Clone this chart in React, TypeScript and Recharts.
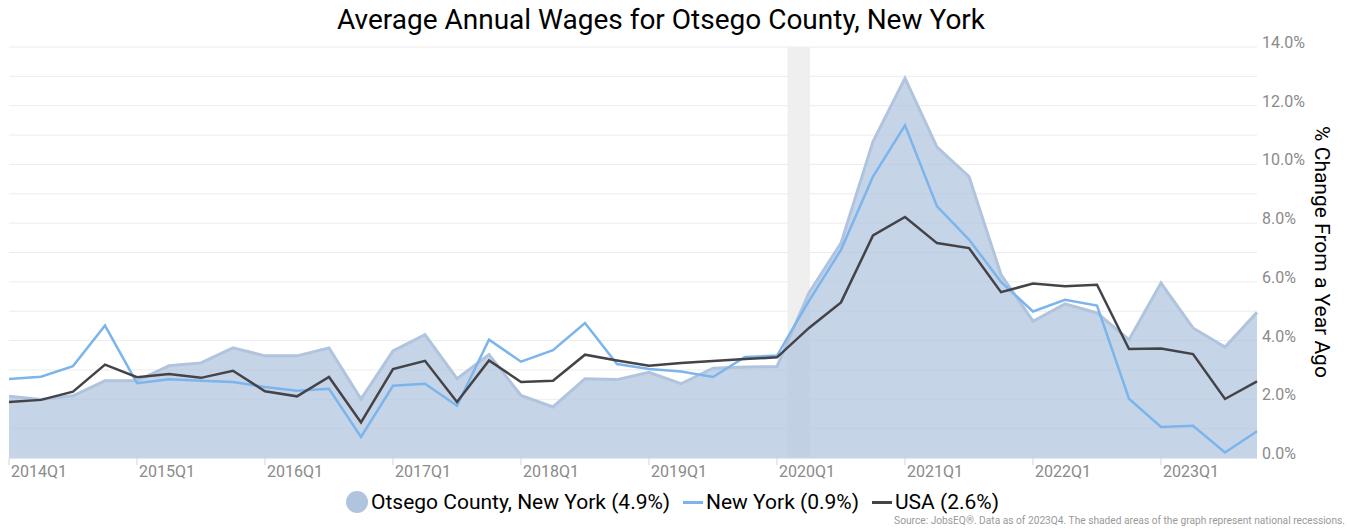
import React from "react";
import {
  Area,
  CartesianGrid,
  ComposedChart,
  Line,
  ReferenceArea,
  XAxis,
  YAxis,
} from "recharts";

const quarters = [
  "2014Q1", "2014Q2", "2014Q3", "2014Q4",
  "2015Q1", "2015Q2", "2015Q3", "2015Q4",
  "2016Q1", "2016Q2", "2016Q3", "2016Q4",
  "2017Q1", "2017Q2", "2017Q3", "2017Q4",
  "2018Q1", "2018Q2", "2018Q3", "2018Q4",
  "2019Q1", "2019Q2", "2019Q3", "2019Q4",
  "2020Q1", "2020Q2", "2020Q3", "2020Q4",
  "2021Q1", "2021Q2", "2021Q3", "2021Q4",
  "2022Q1", "2022Q2", "2022Q3", "2022Q4",
  "2023Q1", "2023Q2", "2023Q3", "2023Q4",
];

const otsego = [
  2.1, 1.99, 2.12, 2.63, 2.63, 3.14, 3.24, 3.75, 3.48, 3.48,
  3.75, 2.01, 3.65, 4.2, 2.7, 3.52, 2.13, 1.74, 2.7, 2.67,
  2.92, 2.53, 3.06, 3.1, 3.12, 5.63, 7.32, 10.78, 12.94, 10.59,
  9.59, 6.25, 4.66, 5.25, 4.94, 4.03, 5.96, 4.43, 3.78, 4.96,
];

const newYork = [
  2.69, 2.77, 3.13, 4.51, 2.55, 2.68, 2.63, 2.59, 2.42, 2.29,
  2.36, 0.72, 2.46, 2.53, 1.78, 4.03, 3.28, 3.67, 4.6, 3.2,
  3.03, 2.95, 2.76, 3.44, 3.49, 5.35, 7.09, 9.59, 11.33, 8.57,
  7.44, 6.0, 4.99, 5.39, 5.19, 2.02, 1.06, 1.1, 0.19, 0.91,
];

const usa = [
  1.91, 1.98, 2.26, 3.18, 2.75, 2.86, 2.73, 2.97, 2.27, 2.1,
  2.76, 1.21, 3.03, 3.31, 1.91, 3.32, 2.59, 2.63, 3.52, 3.32,
  3.14, 3.24, 3.3, 3.37, 3.43, 4.43, 5.3, 7.58, 8.21, 7.32,
  7.15, 5.65, 5.94, 5.85, 5.9, 3.71, 3.73, 3.54, 2.01, 2.61,
];

// recession: Feb 2020 - Apr 2020, in quarter-index units
const recessionStart = 24.33;
const recessionEnd = 25.03;

const xTicks = [0, 4, 8, 12, 16, 20, 24, 28, 32, 36];
const yTicks = [0, 1, 2, 3, 4, 5, 6, 7, 8, 9, 10, 11, 12, 13, 14];

const data = quarters.map((q, i) => ({
  i,
  quarter: q,
  otsego: otsego[i],
  newYork: newYork[i],
  usa: usa[i],
}));

const font = "Roboto, 'Noto Sans', sans-serif";

function XTick({ x, y, payload }) {
  return (
    <text x={x + 2} y={y + 10} fill="#8a8a8a" fontSize={16} fontFamily={font} textAnchor="start">
      {quarters[payload.value]}
    </text>
  );
}

function YTick({ x, y, payload }) {
  if (payload.value % 2 !== 0) return null;
  return (
    <text x={x} y={y + 1} fill="#8a8a8a" fontSize={16} fontFamily={font} textAnchor="start">
      {payload.value.toFixed(1) + "%"}
    </text>
  );
}

const legendText = { position: "absolute" as const, top: 489, fontSize: 21, lineHeight: "26px", color: "#000", whiteSpace: "nowrap" as const };

export default function App() {
  return (
    <div style={{ position: "absolute", left: 0, top: 0, width: 1349, height: 529, fontFamily: font, background: "#fff" }}>
      <div style={{ position: "absolute", left: 0, width: 1322, top: 3, textAlign: "center", fontSize: 28, lineHeight: "34px", color: "#000" }}>
        Average Annual Wages for Otsego County, New York
      </div>

      <ComposedChart width={1349} height={529} data={data} margin={{ top: 47, right: 0, left: 9, bottom: 41 }}>
        <CartesianGrid horizontal vertical={false} stroke="#ececec" strokeWidth={1} />
        <ReferenceArea
          x1={recessionStart}
          x2={recessionEnd}
          y1={0}
          y2={14}
          fill="#efefef"
          fillOpacity={1}
          stroke="none"
        />
        <XAxis
          dataKey="i"
          type="number"
          domain={[0, 39]}
          ticks={xTicks}
          tick={<XTick />}
          tickSize={7}
          tickMargin={2}
          stroke="#ccd6eb"
          axisLine={{ stroke: "#ccd6eb" }}
          tickLine={{ stroke: "#ccd6eb" }}
          height={30}
          interval={0}
        />
        <YAxis
          orientation="right"
          type="number"
          domain={[0, 14]}
          ticks={yTicks}
          tick={<YTick />}
          axisLine={false}
          tickLine={false}
          tickSize={0}
          tickMargin={5}
          width={92}
          interval={0}
        />
        <Area
          type="linear"
          dataKey="otsego"
          stroke="#b0c4de"
          strokeWidth={3}
          fill="#b0c4de"
          fillOpacity={0.72}
          dot={false}
          activeDot={false}
          isAnimationActive={false}
        />
        <Line
          type="linear"
          dataKey="newYork"
          stroke="#7cb5ec"
          strokeWidth={2.5}
          dot={false}
          activeDot={false}
          isAnimationActive={false}
        />
        <Line
          type="linear"
          dataKey="usa"
          stroke="#434348"
          strokeWidth={2.5}
          dot={false}
          activeDot={false}
          isAnimationActive={false}
        />
      </ComposedChart>

      <div
        style={{
          position: "absolute",
          left: 1322,
          top: 252,
          transform: "translate(-50%, -50%) rotate(90deg)",
          whiteSpace: "nowrap",
          fontSize: 21,
          color: "#000",
        }}
      >
        % Change From a Year Ago
      </div>

      <span style={{ position: "absolute", left: 346, top: 491, width: 22, height: 22, borderRadius: 11, background: "#b0c4de" }} />
      <span style={{ ...legendText, left: 371 }}>Otsego County, New York (4.9%)</span>
      <span style={{ position: "absolute", left: 683, top: 501, width: 20, height: 3, background: "#7cb5ec" }} />
      <span style={{ ...legendText, left: 706 }}>New York (0.9%)</span>
      <span style={{ position: "absolute", left: 872, top: 501, width: 20, height: 3, background: "#434348" }} />
      <span style={{ ...legendText, left: 895 }}>USA (2.6%)</span>

      <div style={{ position: "absolute", right: 4, top: 515, fontSize: 10.2, color: "#999", whiteSpace: "nowrap" }}>
        Source: JobsEQ®. Data as of 2023Q4. The shaded areas of the graph represent national recessions.
      </div>
    </div>
  );
}
